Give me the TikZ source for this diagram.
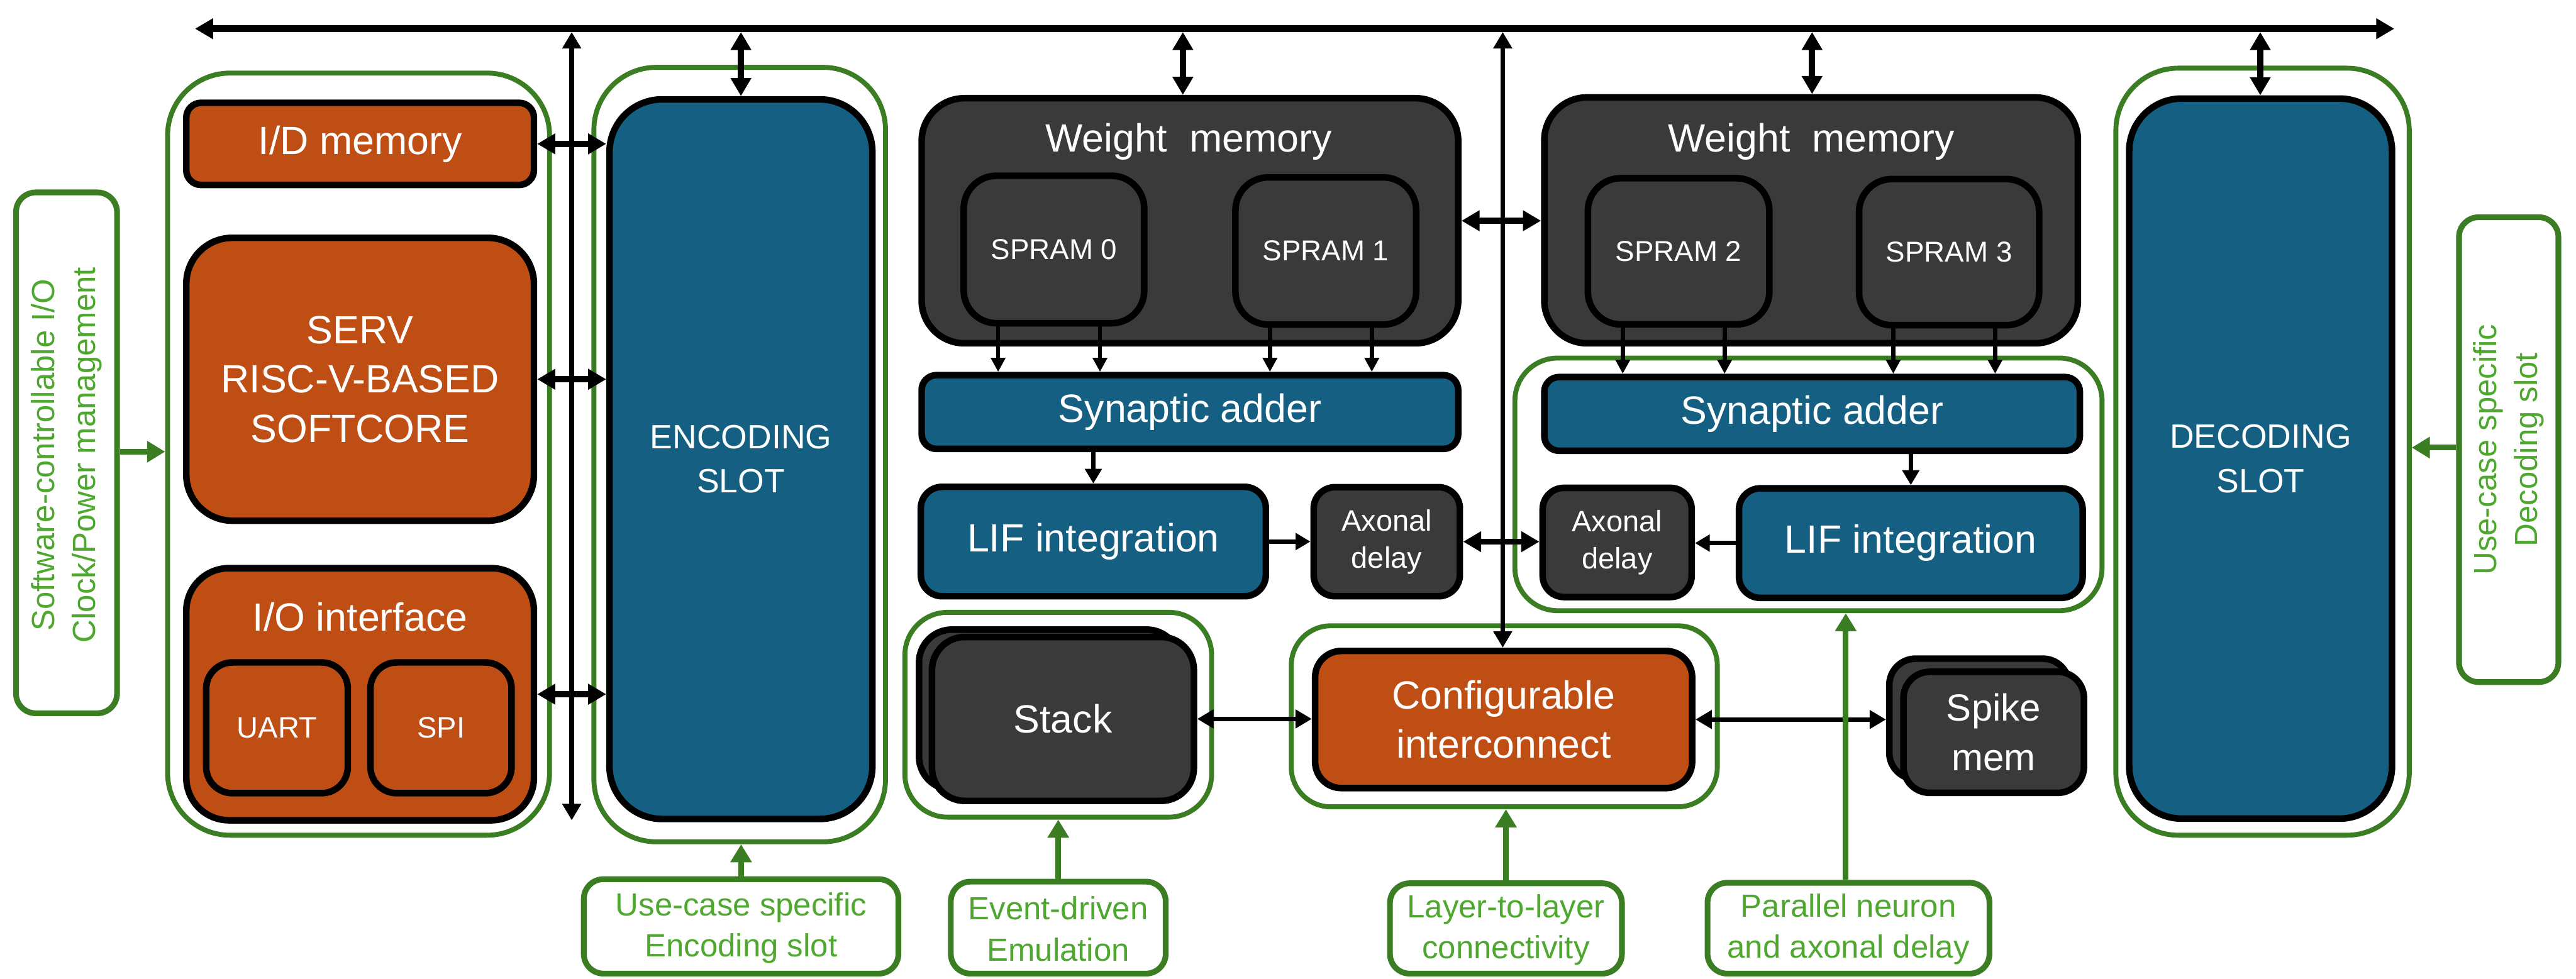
\documentclass[tikz,border=0pt]{standalone}
\usepackage{fontspec}
\setmainfont{Liberation Sans}
\usetikzlibrary{arrows.meta,calc}
\definecolor{orng}{HTML}{BF4E14}
\definecolor{blu}{HTML}{156082}
\definecolor{dk}{HTML}{3A3A3A}
\definecolor{grn}{HTML}{3B7D23}
\definecolor{grntext}{HTML}{4EA72E}
\newcommand{\fsz}[2]{\fontsize{#1}{#2}\selectfont}
\tikzset{
  blk/.style={draw=black, line width=4pt, inner sep=0pt, align=center, text=white, font=\fsz{24}{30}},
  orbox/.style={blk, fill=orng},
  blbox/.style={blk, fill=blu},
  dkbox/.style={blk, fill=dk},
  grp/.style={draw=grn, line width=3pt, inner sep=0pt},
  callout/.style={draw=grn, fill=white, line width=3.5pt, inner sep=0pt, rounded corners=12pt},
  ctext/.style={text=grntext, align=center, font=\fsz{19.5}{25}, inner sep=0pt},
  bus/.style={line width=4pt, {Triangle[width=12pt,length=11pt]}-{Triangle[width=12pt,length=11pt]}},
  dbl/.style={line width=3.8pt, {Triangle[width=12pt,length=11pt]}-{Triangle[width=12pt,length=11pt]}},
  thin2/.style={line width=2.8pt, {Triangle[width=11pt,length=10pt]}-{Triangle[width=11pt,length=10pt]}},
  one/.style={line width=2.8pt, -{Triangle[width=10pt,length=9pt]}},
  small/.style={line width=2.6pt, -{Triangle[width=8.5pt,length=8.5pt]}},
  garr/.style={draw=grn, line width=3.5pt, -{Triangle[width=12.5pt,length=11pt]}},
}
\begin{document}
\begin{tikzpicture}[x=1pt, y=-1pt]
\useasboundingbox (0,0) rectangle (1568,596);

% ---------- green groups ----------
\node[grp, rounded corners=38pt, minimum width=232.5pt, minimum height=464pt] (gLeft) at (218.25,276.5) {};
\node[grp, rounded corners=38pt, minimum width=177.5pt, minimum height=471.5pt] (gEnc) at (450.25,276.75) {};
\node[grp, rounded corners=38pt, minimum width=178.6pt, minimum height=467pt] (gDec) at (1377.2,275) {};
\node[grp, rounded corners=26pt, minimum width=357.4pt, minimum height=153.8pt] (gNeuron) at (1100.8,294.9) {};
\node[grp, rounded corners=26pt, minimum width=186.7pt, minimum height=124.7pt] (gStack) at (644.15,435.15) {};
\node[grp, rounded corners=24pt, minimum width=259.3pt, minimum height=110.2pt] (gConf) at (915.65,436.1) {};

% ---------- left column ----------
\node[orbox, rounded corners=9pt, minimum width=211.6pt, minimum height=50pt] (idmem) at (219.2,87.6) {I/D memory};
\node[orbox, rounded corners=28pt, minimum width=211.6pt, minimum height=172.2pt] (serv) at (219.2,230.9) {SERV\\RISC-V-BASED\\SOFTCORE};
\node[orbox, rounded corners=26pt, minimum width=211.6pt, minimum height=153.5pt] (io) at (219.2,422.65) {};
\node[text=white, font=\fsz{24}{30}, inner sep=0pt, anchor=base] (iolabel) at (219.2,384) {I/O interface};
\node[orbox, rounded corners=16pt, minimum width=86.2pt, minimum height=79.6pt, font=\fsz{18}{22}] (uart) at (168.6,443.1) {UART};
\node[orbox, rounded corners=16pt, minimum width=85.9pt, minimum height=79.6pt, font=\fsz{18}{22}] (spi) at (268.45,443.1) {SPI};

% ---------- encoding / decoding ----------
\node[blbox, rounded corners=32pt, minimum width=160pt, minimum height=438.1pt, font=\fsz{20.5}{27}] (enc) at (451,279.55) {ENCODING\\SLOT};
\node[blbox, rounded corners=32pt, minimum width=160pt, minimum height=438.4pt, font=\fsz{20.5}{27}] (dec) at (1376,279.2) {DECODING\\SLOT};

% ---------- weight memories ----------
\node[dkbox, rounded corners=26pt, minimum width=326.6pt, minimum height=149.2pt] (wm1) at (724.3,134.4) {};
\node[text=white, font=\fsz{24}{30}, inner sep=0pt, anchor=base] (wm1label) at (723.5,92.6) {Weight\ \ memory};
\node[dkbox, rounded corners=20pt, minimum width=109.9pt, minimum height=89.8pt, font=\fsz{17.5}{22}] (spram0) at (641.55,151.9) {SPRAM 0};
\node[dkbox, rounded corners=20pt, minimum width=110pt, minimum height=89.6pt, font=\fsz{17.5}{22}] (spram1) at (807,152.8) {SPRAM 1};

\node[dkbox, rounded corners=26pt, minimum width=324.8pt, minimum height=149.7pt] (wm2) at (1102.4,134.15) {};
\node[text=white, font=\fsz{24}{30}, inner sep=0pt, anchor=base] (wm2label) at (1102.6,92.6) {Weight\ \ memory};
\node[dkbox, rounded corners=20pt, minimum width=110.5pt, minimum height=89pt, font=\fsz{17.5}{22}] (spram2) at (1021.75,153) {SPRAM 2};
\node[dkbox, rounded corners=20pt, minimum width=109.6pt, minimum height=89pt, font=\fsz{17.5}{22}] (spram3) at (1186.4,153.5) {SPRAM 3};

% ---------- synaptic adders, LIF, axonal ----------
\node[blbox, rounded corners=9pt, minimum width=326.6pt, minimum height=44.9pt] (sa1) at (724.3,250.85) {Synaptic adder};
\node[blbox, rounded corners=9pt, minimum width=326pt, minimum height=44.9pt] (sa2) at (1103,252) {Synaptic adder};
\node[blbox, rounded corners=13pt, minimum width=210pt, minimum height=66.6pt] (lif1) at (665.5,329.7) {LIF integration};
\node[dkbox, rounded corners=13pt, minimum width=89pt, minimum height=66.4pt, font=\fsz{18}{22.5}] (ax1) at (844.1,329.8) {Axonal\\delay};
\node[dkbox, rounded corners=13pt, minimum width=90.7pt, minimum height=66.5pt, font=\fsz{18}{22.5}] (ax2) at (984.35,330.25) {Axonal\\delay};
\node[blbox, rounded corners=13pt, minimum width=209.2pt, minimum height=66.7pt] (lif2) at (1163.1,330.65) {LIF integration};

% ---------- stack, interconnect, spike mem ----------
\node[dkbox, rounded corners=20pt, minimum width=158.6pt, minimum height=97.4pt] (stackb) at (638.7,432) {};
\node[dkbox, rounded corners=20pt, minimum width=159.4pt, minimum height=99.8pt] (stackf) at (647,437.7) {Stack};
\node[orbox, rounded corners=16pt, minimum width=229.5pt, minimum height=83.5pt] (conf) at (915.25,438.05) {Configurable\\interconnect};
\node[dkbox, rounded corners=16pt, minimum width=109.4pt, minimum height=73.3pt] (spikeb) at (1204.7,437.65) {};
\node[dkbox, rounded corners=16pt, minimum width=109.9pt, minimum height=73.7pt, font=\fsz{23}{30}] (spikef) at (1213.55,445.85) {Spike\\mem};

% ---------- bus ----------
\coordinate (busL) at (118.7,17.5);
\coordinate (busR) at (1457.4,17.5);
\draw[bus] (busL) -- (busR);
\coordinate (vbT) at (348,19.5);
\coordinate (vbB) at (348,499.4);
\draw[thin2, line width=3pt] (vbT) -- (vbB);
\coordinate (b1) at (451,19.5);
\coordinate (b2) at (720,19.5);
\coordinate (b3) at (1103,19.5);
\coordinate (b4) at (1375.8,19.5);
\coordinate (b5) at (914.7,19.5);
\draw[dbl] (b1) -- (b1 |- enc.north);
\draw[dbl] (b2) -- (b2 |- wm1.north);
\draw[dbl] (b3) -- (b3 |- wm2.north);
\draw[dbl] (b4) -- (b4 |- dec.north);
\draw[thin2, line width=3pt] (b5) -- (b5 |- conf.north);

% ---------- left horizontal arrows ----------
\draw[dbl] (idmem.east) -- (idmem.east -| enc.west);
\draw[dbl] (serv.east) -- (serv.east -| enc.west);
\draw[dbl] (io.east) -- (io.east -| enc.west);

% ---------- weight memory link ----------
\draw[dbl] (wm1.east) -- (wm1.east -| wm2.west);

% ---------- SPRAM -> adder ----------
\foreach \s/\a in {spram0/sa1, spram1/sa1, spram2/sa2, spram3/sa2}{
  \draw[small] ([xshift=-34pt]\s.south) -- ([xshift=-34pt]\s.south |- \a.north);
  \draw[small] ([xshift=28pt]\s.south) -- ([xshift=28pt]\s.south |- \a.north);
}
\draw[one] (sa1.south -| lif1.north) -- (lif1.north);
\draw[one] (sa2.south -| lif2.north) -- (lif2.north);
\draw[one] (lif1.east) -- (lif1.east -| ax1.west);
\draw[one] (lif2.west) -- (lif2.west -| ax2.east);
\draw[dbl] (ax1.east) -- (ax1.east -| ax2.west);

\draw[thin2] (stackf.east) -- (stackf.east -| conf.west);
\draw[thin2] (conf.east) -- (conf.east -| spikeb.west);

% ---------- callouts ----------
\node[callout, minimum width=61.5pt, minimum height=317.1pt] (cLeft) at (40.5,275.7) {};
\node[ctext, rotate=90] (cLeftT) at (40.5,277) {Software-controllable I/O\\Clock/Power management};
\node[callout, minimum width=60.5pt, minimum height=283pt] (cRight) at (1527,273.75) {};
\node[ctext, rotate=90] (cRightT) at (1527,273.75) {Use-case specific\\Decoding slot};
\node[callout, minimum width=191.5pt, minimum height=57.5pt] (cEnc) at (451.1,564) {};
\node[ctext] (cEncT) at (451.1,565) {Use-case specific\\Encoding slot};
\node[callout, minimum width=130.8pt, minimum height=56pt] (cEvent) at (644.15,564.75) {};
\node[ctext] (cEventT) at (644.15,565.5) {Event-driven\\Emulation};
\node[callout, minimum width=141.2pt, minimum height=55pt] (cLayer) at (916.65,565.25) {};
\node[ctext] (cLayerT) at (916.65,566) {Layer-to-layer\\connectivity};
\node[callout, minimum width=171.6pt, minimum height=55.3pt] (cPar) at (1125.15,565.1) {};
\node[ctext] (cParT) at (1125.15,565.8) {Parallel neuron\\and axonal delay};

\draw[garr] (cLeft.east |- 0,275) -- (gLeft.west |- 0,275);
\draw[garr] (cRight.west |- 0,272.5) -- (gDec.east |- 0,272.5);
\draw[garr] (cEnc.north) -- (cEnc.north |- gEnc.south);
\draw[garr] (cEvent.north) -- (cEvent.north |- gStack.south);
\draw[garr] (cLayer.north) -- (cLayer.north |- gConf.south);
\draw[garr] (cPar.north -| 1123.5,0) -- (gNeuron.south -| 1123.5,0);
\end{tikzpicture}
\end{document}
